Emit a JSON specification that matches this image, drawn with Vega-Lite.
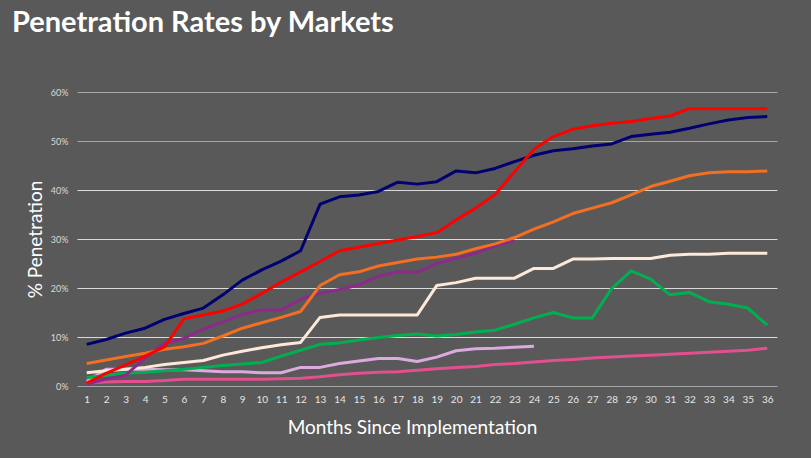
{
  "$schema": "https://vega.github.io/schema/vega-lite/v6.json",
  "autosize": "none",
  "width": 700,
  "height": 294,
  "padding": {"left": 77, "top": 92, "right": 34, "bottom": 72},
  "background": "#595959",
  "title": {
    "text": "Penetration Rates by Markets",
    "anchor": "start",
    "frame": "group",
    "dx": -65,
    "offset": 50,
    "font": "Lato",
    "fontSize": 29,
    "fontWeight": "bold",
    "color": "#ffffff"
  },
  "config": {
    "view": {"stroke": null},
    "font": "Lato"
  },
  "data": {
    "values": [
      {"month": 1, "a": 8.5, "b": 0.6, "c": 4.6, "d": 0.4, "e": 2.7, "f": 1.7, "g": 0.9, "h": 0.6},
      {"month": 2, "a": 9.5, "b": 2.6, "c": 5.3, "d": 1.4, "e": 3.1, "f": 2.2, "g": 3.4, "h": 0.8},
      {"month": 3, "a": 10.8, "b": 4.3, "c": 6.0, "d": 2.2, "e": 3.4, "f": 2.6, "g": 3.4, "h": 0.9},
      {"month": 4, "a": 11.8, "b": 6.1, "c": 6.7, "d": 5.7, "e": 3.8, "f": 2.8, "g": 3.4, "h": 0.9},
      {"month": 5, "a": 13.6, "b": 8.0, "c": 7.5, "d": 8.7, "e": 4.4, "f": 3.1, "g": 3.3, "h": 1.1},
      {"month": 6, "a": 14.8, "b": 13.7, "c": 8.0, "d": 9.7, "e": 4.8, "f": 3.4, "g": 3.3, "h": 1.4},
      {"month": 7, "a": 15.9, "b": 14.5, "c": 8.7, "d": 11.6, "e": 5.2, "f": 3.8, "g": 3.1, "h": 1.4},
      {"month": 8, "a": 18.6, "b": 15.3, "c": 10.2, "d": 13.1, "e": 6.3, "f": 4.2, "g": 2.9, "h": 1.4},
      {"month": 9, "a": 21.6, "b": 16.7, "c": 11.8, "d": 14.6, "e": 7.1, "f": 4.5, "g": 2.9, "h": 1.4},
      {"month": 10, "a": 23.7, "b": 18.9, "c": 12.9, "d": 15.5, "e": 7.8, "f": 4.8, "g": 2.7, "h": 1.4},
      {"month": 11, "a": 25.5, "b": 21.2, "c": 14.0, "d": 15.5, "e": 8.4, "f": 6.1, "g": 2.7, "h": 1.5},
      {"month": 12, "a": 27.6, "b": 23.3, "c": 15.2, "d": 17.7, "e": 8.9, "f": 7.3, "g": 3.8, "h": 1.6},
      {"month": 13, "a": 37.1, "b": 25.4, "c": 20.5, "d": 18.9, "e": 14.0, "f": 8.5, "g": 3.8, "h": 1.9},
      {"month": 14, "a": 38.6, "b": 27.6, "c": 22.7, "d": 19.7, "e": 14.5, "f": 8.8, "g": 4.6, "h": 2.3},
      {"month": 15, "a": 39.0, "b": 28.3, "c": 23.3, "d": 20.6, "e": 14.5, "f": 9.4, "g": 5.1, "h": 2.6},
      {"month": 16, "a": 39.7, "b": 29.1, "c": 24.5, "d": 22.4, "e": 14.5, "f": 9.9, "g": 5.6, "h": 2.8},
      {"month": 17, "a": 41.6, "b": 29.8, "c": 25.2, "d": 23.3, "e": 14.5, "f": 10.3, "g": 5.6, "h": 2.9},
      {"month": 18, "a": 41.2, "b": 30.5, "c": 25.9, "d": 23.2, "e": 14.5, "f": 10.6, "g": 5.0, "h": 3.2},
      {"month": 19, "a": 41.7, "b": 31.3, "c": 26.3, "d": 25.0, "e": 20.5, "f": 10.2, "g": 5.9, "h": 3.5},
      {"month": 20, "a": 43.9, "b": 33.9, "c": 26.9, "d": 26.1, "e": 21.1, "f": 10.5, "g": 7.2, "h": 3.8},
      {"month": 21, "a": 43.5, "b": 36.3, "c": 28.0, "d": 27.1, "e": 22.0, "f": 11.0, "g": 7.6, "h": 4.0},
      {"month": 22, "a": 44.4, "b": 39.1, "c": 29.0, "d": 28.6, "e": 22.0, "f": 11.4, "g": 7.7, "h": 4.4},
      {"month": 23, "a": 45.8, "b": 43.7, "c": 30.3, "d": 29.7, "e": 22.0, "f": 12.6, "g": 7.9, "h": 4.6},
      {"month": 24, "a": 47.1, "b": 48.3, "c": 32.0, "d": null, "e": 24.0, "f": 13.9, "g": 8.1, "h": 4.9},
      {"month": 25, "a": 48.0, "b": 50.9, "c": 33.5, "d": null, "e": 24.0, "f": 15.0, "g": null, "h": 5.2},
      {"month": 26, "a": 48.4, "b": 52.4, "c": 35.2, "d": null, "e": 25.9, "f": 13.9, "g": null, "h": 5.4},
      {"month": 27, "a": 49.0, "b": 53.1, "c": 36.3, "d": null, "e": 25.9, "f": 13.9, "g": null, "h": 5.7},
      {"month": 28, "a": 49.4, "b": 53.6, "c": 37.4, "d": null, "e": 26.0, "f": 19.9, "g": null, "h": 5.9},
      {"month": 29, "a": 50.9, "b": 54.0, "c": 39.0, "d": null, "e": 26.0, "f": 23.5, "g": null, "h": 6.1},
      {"month": 30, "a": 51.4, "b": 54.6, "c": 40.7, "d": null, "e": 26.0, "f": 21.8, "g": null, "h": 6.3},
      {"month": 31, "a": 51.8, "b": 55.1, "c": 41.8, "d": null, "e": 26.7, "f": 18.6, "g": null, "h": 6.5},
      {"month": 32, "a": 52.6, "b": 56.6, "c": 42.9, "d": null, "e": 26.9, "f": 19.1, "g": null, "h": 6.7},
      {"month": 33, "a": 53.5, "b": 56.6, "c": 43.5, "d": null, "e": 26.9, "f": 17.2, "g": null, "h": 6.9},
      {"month": 34, "a": 54.3, "b": 56.6, "c": 43.7, "d": null, "e": 27.1, "f": 16.7, "g": null, "h": 7.1},
      {"month": 35, "a": 54.8, "b": 56.6, "c": 43.7, "d": null, "e": 27.1, "f": 15.9, "g": null, "h": 7.3},
      {"month": 36, "a": 55.0, "b": 56.6, "c": 43.9, "d": null, "e": 27.1, "f": 12.4, "g": null, "h": 7.7}
    ]
  },
  "transform": [
    {"fold": ["h", "g", "f", "e", "d", "c", "a", "b"], "as": ["market", "rate"]},
    {"filter": {"field": "rate", "valid": true}}
  ],
  "mark": {"type": "line", "strokeWidth": 3, "strokeJoin": "round"},
  "encoding": {
    "x": {
      "field": "month",
      "type": "ordinal",
      "scale": {"padding": 0.5},
      "axis": {
        "title": "Months Since Implementation",
        "titleFont": "Lato",
        "titleFontSize": 19,
        "titleFontWeight": "normal",
        "titleColor": "#ffffff",
        "titlePadding": 14,
        "titleX": 335,
        "titleAlign": "center",
        "labelAngle": 0,
        "labelFontSize": 10,
        "labelColor": "#e6e6e6",
        "labelPadding": 8,
        "domain": false,
        "ticks": false
      }
    },
    "y": {
      "field": "rate",
      "type": "quantitative",
      "scale": {"domain": [0, 60]},
      "axis": {
        "title": "% Penetration",
        "titleFont": "Lato",
        "titleFontSize": 19,
        "titleFontWeight": "normal",
        "titleColor": "#ffffff",
        "titlePadding": 5,
        "values": [0, 10, 20, 30, 40, 50, 60],
        "labelExpr": "datum.value + '%'",
        "labelFontSize": 9,
        "labelColor": "#d9d9d9",
        "labelPadding": 9,
        "domain": false,
        "ticks": false,
        "grid": true,
        "gridColor": {"condition": {"test": "datum.value >= 50 || datum.value == 0", "value": "#a6a6a6"}, "value": "#d9d9d9"},
        "gridWidth": 1.2
      }
    },
    "color": {
      "field": "market",
      "type": "nominal",
      "scale": {
        "domain": ["a", "b", "c", "d", "e", "f", "g", "h"],
        "range": ["#000070", "#ff0000", "#f36f21", "#8b2a8b", "#fde9d9", "#00b050", "#dcaadf", "#e34f8f"]
      },
      "legend": null
    }
  }
}
